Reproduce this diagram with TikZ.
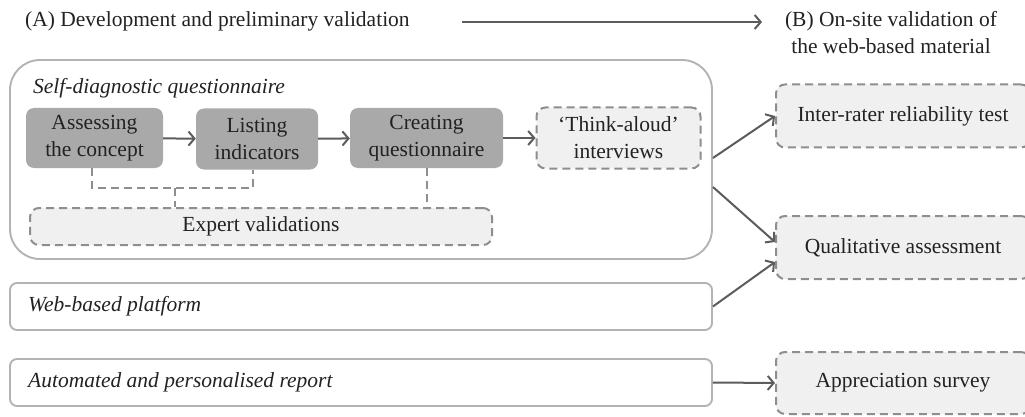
\documentclass[tikz,border=0pt]{standalone}
\usepackage{fontspec}
\setmainfont{Liberation Serif}
\usetikzlibrary{arrows.meta}
\definecolor{txtgray}{HTML}{222222}
\definecolor{boxgray}{HTML}{A9A9A9}
\definecolor{lightfill}{HTML}{F0F0F0}
\definecolor{dashgray}{HTML}{8E8E8E}
\definecolor{framegray}{HTML}{B3B3B3}
\definecolor{arrgray}{HTML}{5C5C5C}

\begin{document}
\begin{tikzpicture}[x=1pt,y=-1pt,
  font=\fontsize{21.5}{27}\selectfont, text=txtgray,
  darkbox/.style={fill=boxgray,rounded corners=8pt,align=center,inner sep=0pt},
  dashbox/.style={draw=dashgray,fill=lightfill,line width=2pt,dash pattern=on 8pt off 5pt,rounded corners=9pt,align=center,inner sep=0pt},
  framebox/.style={draw=framegray,line width=1.9pt,inner sep=0pt},
  arr/.style={draw=arrgray,line width=2pt,-{Straight Barb[length=6pt,width=14pt]}},
  link/.style={draw=dashgray,line width=2pt,dash pattern=on 8pt off 5pt}]
\useasboundingbox (0,0) rectangle (1025,417);

% headings
\node[anchor=west,inner sep=0pt] (phaseA) at (25,21) {(A) Development and preliminary validation};
\coordinate (phaseAend) at (462,22);
\node[align=center,inner sep=0pt] (phaseB) at (891,33) {(B) On-site validation of\\the web-based material};
\draw[arr] (phaseAend) -- (762,22);

% left column
\node[framebox,rounded corners=30pt,minimum width=702,minimum height=199] (sdq) at (361,159.5) {};
\node[anchor=west,inner sep=0pt,font=\fontsize{21.5}{27}\selectfont\itshape] (sdqlabel) at (33,88) {Self-diagnostic questionnaire};
\node[framebox,rounded corners=7pt,minimum width=702,minimum height=47] (web) at (361,306.5) {};
\node[anchor=west,inner sep=0pt,font=\fontsize{21.5}{27}\selectfont\itshape] (weblabel) at (28,306.5) {Web-based platform};
\node[framebox,rounded corners=7pt,minimum width=702,minimum height=47] (report) at (361,382.5) {};
\node[anchor=west,inner sep=0pt,font=\fontsize{21.5}{27}\selectfont\itshape] (reportlabel) at (28,382.5) {Automated and personalised report};

\node[darkbox,minimum width=137,minimum height=60] (concept) at (94.5,138) {Assessing\\the concept};
\node[darkbox,minimum width=122,minimum height=61] (indicators) at (257,139) {Listing\\indicators};
\node[darkbox,minimum width=153,minimum height=60] (questionnaire) at (426.5,138) {Creating\\questionnaire};
\node[dashbox,minimum width=164,minimum height=61] (thinkaloud) at (618.5,138) {`Think-aloud'\\interviews};
\node[dashbox,minimum width=462,minimum height=37] (experts) at (261,226.5) {Expert validations};

\draw[arr] (concept) -- (indicators);
\draw[arr] (indicators) -- (questionnaire);
\draw[arr] (questionnaire) -- (thinkaloud);

\coordinate (join) at (175,188);
\draw[link] ([xshift=-2.5pt]concept.south) -- ++(0,20) -| ([xshift=-4pt]indicators.south);
\draw[link] (join) -- (join |- experts.north);
\draw[link] (questionnaire.south) -- (questionnaire.south |- experts.north);

% right column
\node[dashbox,minimum width=254,minimum height=63] (interrater) at (903,116) {Inter-rater reliability test};
\node[dashbox,minimum width=254,minimum height=63] (qualitative) at (903,247.5) {Qualitative assessment};
\node[dashbox,minimum width=254,minimum height=62] (appreciation) at (903,383) {Appreciation survey};

\draw[arr] ([yshift=1.5pt]sdq.east) -- (interrater.west);
\draw[arr] ([yshift=-27.5pt]sdq.east) -- ([yshift=5.5pt]qualitative.west);
\draw[arr] (web.east) -- ([yshift=-14.5pt]qualitative.west);
\draw[arr] (report.east) -- (appreciation.west);
\end{tikzpicture}
\end{document}
